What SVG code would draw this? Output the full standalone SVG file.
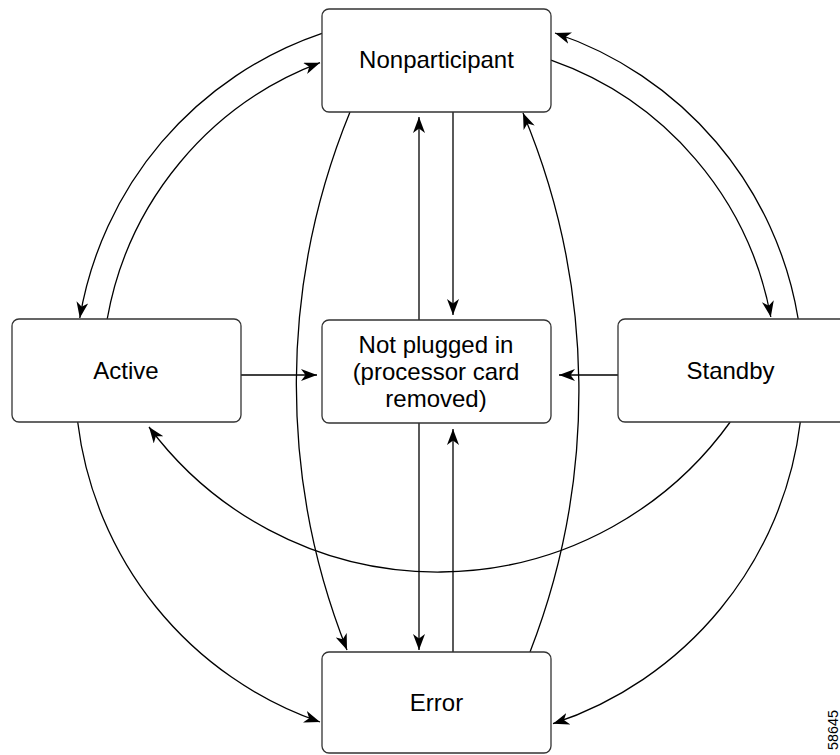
<svg xmlns="http://www.w3.org/2000/svg" width="840" height="755" viewBox="0 0 840 755">
<style>
.box{fill:#fff;stroke:#333;stroke-width:1.3}
.lbl{font-family:"Liberation Sans",Arial,sans-serif;font-size:24px;fill:#000;text-anchor:middle}
.c{fill:none;stroke:#000;stroke-width:1.3}
.id{font-family:"Liberation Sans",Arial,sans-serif;font-size:14px;fill:#000;text-anchor:middle}
</style>
<defs>
<marker id="ah" markerUnits="userSpaceOnUse" markerWidth="16" markerHeight="12" viewBox="0 0 16 12" refX="16" refY="6" orient="auto">
<path d="M0,0 L16,6 L0,12 L4.5,6 z" fill="#000"/>
</marker>
</defs>
<rect width="840" height="755" fill="#fff"/>
<g id="connectors">
<path class="c" marker-end="url(#ah)" d="M322,33.3 A364,364 0 0 0 79.8,318"/>
<path class="c" marker-end="url(#ah)" d="M107.2,319 A337,337 0 0 1 320,62.7"/>
<path class="c" marker-end="url(#ah)" d="M551,60.2 A337,337 0 0 1 770.8,317"/>
<path class="c" marker-end="url(#ah)" d="M798.2,319 A364,364 0 0 0 555,33"/>
<path class="c" marker-end="url(#ah)" d="M77.7,422 A364,364 0 0 0 320,722"/>
<path class="c" marker-end="url(#ah)" d="M800.3,422 A364,364 0 0 1 553,723.7"/>
<path class="c" marker-end="url(#ah)" d="M730.2,422 A360,360 0 0 1 149,427"/>
<path class="c" marker-end="url(#ah)" d="M350,112 A720,720 0 0 0 347,650"/>
<path class="c" marker-end="url(#ah)" d="M530,652 A720,720 0 0 0 523,113"/>
<path class="c" marker-end="url(#ah)" d="M241,375 L317,375"/>
<path class="c" marker-end="url(#ah)" d="M618,375 L559,375"/>
<path class="c" marker-end="url(#ah)" d="M453,112 L453,315"/>
<path class="c" marker-end="url(#ah)" d="M419,320 L419,117"/>
<path class="c" marker-end="url(#ah)" d="M419,423 L419,650"/>
<path class="c" marker-end="url(#ah)" d="M453,652 L453,429"/>
</g>
<g id="nonparticipant">
<rect class="box" x="322" y="9" width="229" height="103" rx="7"/>
<text class="lbl" x="436.5" y="68">Nonparticipant</text>
</g>
<g id="active">
<rect class="box" x="12" y="319" width="229" height="103" rx="7"/>
<text class="lbl" x="126" y="379">Active</text>
</g>
<g id="notplugged">
<rect class="box" x="322" y="320" width="229" height="103" rx="7"/>
<text class="lbl" x="436" y="353">Not plugged in</text>
<text class="lbl" x="436" y="380">(processor card</text>
<text class="lbl" x="436" y="407">removed)</text>
</g>
<g id="standby">
<rect class="box" x="618" y="319" width="229" height="103" rx="7"/>
<text class="lbl" x="730.5" y="379">Standby</text>
</g>
<g id="error">
<rect class="box" x="322" y="652" width="229" height="101" rx="7"/>
<text class="lbl" x="436.5" y="711">Error</text>
</g>
<text class="id" transform="translate(838,730) rotate(-90)" textLength="40" lengthAdjust="spacingAndGlyphs">58645</text>
</svg>
